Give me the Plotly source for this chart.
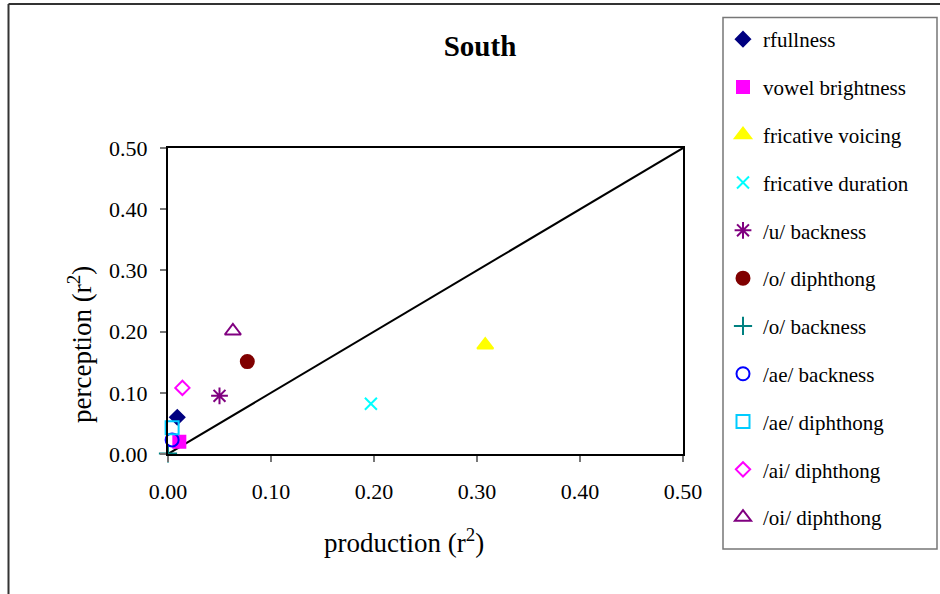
import plotly.graph_objects as go

names = ["rfullness", "vowel brightness", "fricative voicing", "fricative duration",
         "/u/ backness", "/o/ diphthong", "/o/ backness", "/ae/ backness",
         "/ae/ diphthong", "/ai/ diphthong", "/oi/ diphthong"]
production = [0.009, 0.011, 0.308, 0.197, 0.050, 0.077, 0.000, 0.004, 0.004, 0.014, 0.063]
perception = [0.060, 0.020, 0.178, 0.082, 0.095, 0.151, 0.001, 0.023, 0.043, 0.108, 0.201]
symbols = ["diamond", "square", "triangle-up", "x-thin", "asterisk", "circle",
           "cross-thin", "circle-open", "square-open", "diamond-open", "triangle-up-open"]
colors = ["#000080", "#FF00FF", "#FFFF00", "#00FFFF", "#800080", "#800000",
          "#008080", "#0000FF", "#00CCFF", "#FF00FF", "#800080"]
sizes = [11, 12, 14, 12, 14, 13, 13, 13, 13, 11, 14]

diag_x = [0.0, 0.5]
diag_y = [0.0, 0.5]
ticks = [0.0, 0.1, 0.2, 0.3, 0.4, 0.5]
tick_text = ["0.00", "0.10", "0.20", "0.30", "0.40", "0.50"]

title_text = "<b>South</b>"
x_title = "production (r<sup>2</sup>)"
y_title = "perception (r<sup>2</sup>)"

FONT = "Liberation Serif, Times New Roman, serif"

fig = go.Figure()
fig.add_trace(go.Scatter(x=diag_x, y=diag_y, mode="lines",
                         line=dict(color="black", width=2),
                         showlegend=False, hoverinfo="skip", cliponaxis=False))
for i, n in enumerate(names):
    fig.add_trace(go.Scatter(
        x=[production[i]], y=[perception[i]], mode="markers", name=n,
        legendgroup=f"g{i}",
        marker=dict(symbol=symbols[i], color=colors[i], size=sizes[i],
                    line=dict(color=colors[i], width=2)),
        cliponaxis=False))

W, H = 940, 594
L, R, T, B = 168, 683, 148, 454


def px(x):
    return (x - L) / (R - L)


def py(y):
    return (B - y) / (B - T)


shapes = [
    # outer chart frame (left and top edges)
    dict(type="line", xref="paper", yref="paper", x0=px(8.5), x1=px(8.5), y0=py(600), y1=py(4),
         line=dict(color="#333333", width=2)),
    dict(type="line", xref="paper", yref="paper", x0=px(8.5), x1=px(945), y0=py(4), y1=py(4),
         line=dict(color="#333333", width=2)),
    # legend box
    dict(type="rect", xref="paper", yref="paper", x0=px(723), x1=px(937), y0=py(549), y1=py(17.5),
         line=dict(color="#777777", width=1.5)),
]

annotations = [
    dict(text=x_title, xref="paper", yref="paper", x=px(404), y=py(541),
         xanchor="center", yanchor="middle", showarrow=False,
         font=dict(family=FONT, size=27, color="black")),
    dict(text=y_title, xref="paper", yref="paper", x=px(80), y=py(345),
         xanchor="center", yanchor="middle", showarrow=False, textangle=-90,
         font=dict(family=FONT, size=27, color="black")),
]

axis_common = dict(
    range=[0, 0.5], tickvals=ticks, ticktext=tick_text,
    showline=True, linecolor="black", linewidth=2, mirror=True,
    ticks="outside", ticklen=6, tickcolor="#777777", tickwidth=1.5,
    showgrid=False, zeroline=False,
    tickfont=dict(family=FONT, size=22, color="black"),
)

fig.update_layout(
    width=W, height=H,
    margin=dict(l=L, r=W - R, t=T, b=H - B),
    paper_bgcolor="white", plot_bgcolor="white",
    font=dict(family=FONT, color="black"),
    title=dict(text=title_text, xref="container", x=480 / W, xanchor="center",
               y=1 - 46 / H, yanchor="middle",
               font=dict(family=FONT, size=29, color="black")),
    xaxis=dict(**axis_common, ticklabelstandoff=11),
    yaxis=dict(**axis_common, ticklabelstandoff=8),
    legend=dict(x=px(723), xanchor="left", y=py(19), yanchor="top",
                font=dict(family=FONT, size=21, color="black"),
                tracegroupgap=17.5, borderwidth=0, bgcolor="rgba(0,0,0,0)",
                itemsizing="trace", maxheight=580),
    shapes=shapes,
    annotations=annotations,
)

fig.write_html("out.html", config={"displayModeBar": False},
               post_script="document.body.style.margin='0';document.body.style.padding='0';")
